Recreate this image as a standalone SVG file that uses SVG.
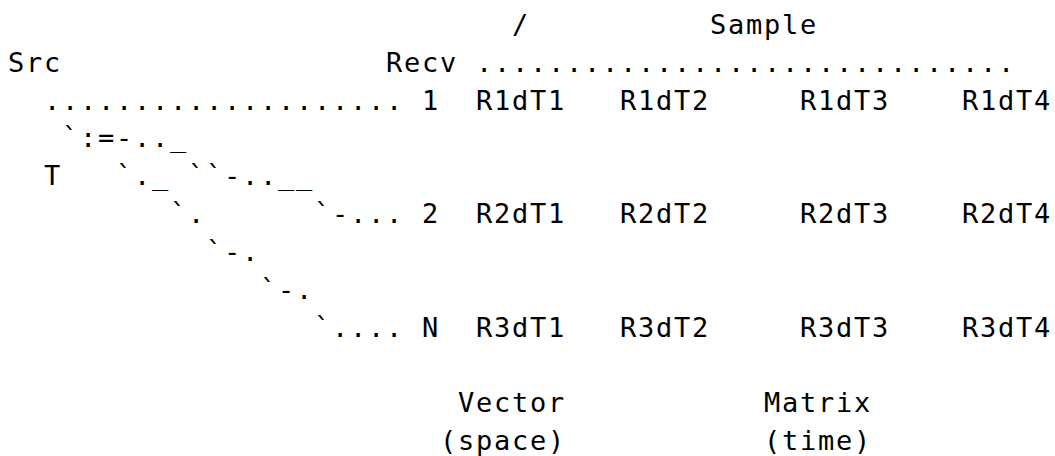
<svg xmlns="http://www.w3.org/2000/svg" width="1055" height="456" viewBox="0 0 1055 456">
<style>
text{font-family:"DejaVu Sans Mono","Liberation Mono",monospace;font-size:27px;letter-spacing:1.746px;fill:#000;white-space:pre}
</style>
<rect width="1055" height="456" fill="#fff"/>
<g id="header">
<text x="512" y="33.8">/</text>
<text x="710" y="33.8">Sample</text>
</g>
<g id="src"><text x="8" y="71.7">Src</text></g>
<g id="t-label"><text x="44" y="185.2">T</text></g>
<g id="recv"><text x="386" y="71.7">Recv</text></g>
<g id="recv1">
<text x="422" y="109.5">1</text>
<text x="476" y="109.5">R1dT1</text>
<text x="620" y="109.5">R1dT2</text>
<text x="800" y="109.5">R1dT3</text>
<text x="962" y="109.5">R1dT4</text>
</g>
<g id="recv2">
<text x="422" y="223.1">2</text>
<text x="476" y="223.1">R2dT1</text>
<text x="620" y="223.1">R2dT2</text>
<text x="800" y="223.1">R2dT3</text>
<text x="962" y="223.1">R2dT4</text>
</g>
<g id="recvN">
<text x="422" y="336.7">N</text>
<text x="476" y="336.7">R3dT1</text>
<text x="620" y="336.7">R3dT2</text>
<text x="800" y="336.7">R3dT3</text>
<text x="962" y="336.7">R3dT4</text>
</g>
<g id="vector">
<text x="458" y="412.4">Vector</text>
<text x="440" y="450.3">(space)</text>
</g>
<g id="matrix">
<text x="764" y="412.4">Matrix</text>
<text x="764" y="450.3">(time)</text>
</g>
<g id="connectors">
<text x="476" y="71.7">..............................</text>
<text x="44" y="109.5">....................</text>
<text x="62" y="147.4">`:=-.._</text>
<text x="116" y="185.2">`._</text>
<text x="188" y="185.2">``-..__</text>
<text x="170" y="223.1">`.</text>
<text x="314" y="223.1">`-...</text>
<text x="206" y="261">`-.</text>
<text x="260" y="298.8">`-.</text>
<text x="314" y="336.7">`....</text>
</g>
</svg>
